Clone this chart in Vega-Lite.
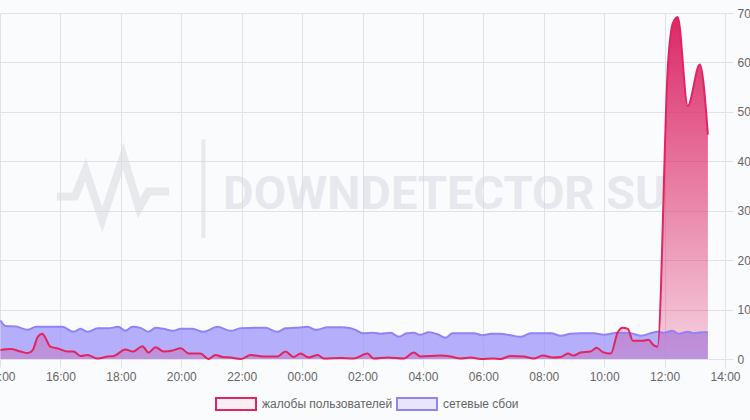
{
  "$schema": "https://vega.github.io/schema/vega-lite/v6.json",
  "autosize": "none",
  "width": 725,
  "height": 346,
  "padding": {"left": 0, "top": 13, "right": 25, "bottom": 61},
  "background": "#fafbfd",
  "config": {
    "view": {"stroke": null},
    "axis": {
      "gridColor": "#e1e2e5",
      "tickColor": "#e1e2e5",
      "labelColor": "#666666",
      "labelFont": "Liberation Sans",
      "labelFontSize": 12,
      "domain": false,
      "title": null
    }
  },
  "datasets": {
    "series": [
      {"t": "2024-01-01T14:01", "v": 78, "s": "сетевые сбои"},
      {"t": "2024-01-01T14:11", "v": 67, "s": "сетевые сбои"},
      {"t": "2024-01-01T14:31", "v": 66, "s": "сетевые сбои"},
      {"t": "2024-01-01T14:55", "v": 59, "s": "сетевые сбои"},
      {"t": "2024-01-01T15:11", "v": 65, "s": "сетевые сбои"},
      {"t": "2024-01-01T15:40", "v": 65, "s": "сетевые сбои"},
      {"t": "2024-01-01T16:04", "v": 65, "s": "сетевые сбои"},
      {"t": "2024-01-01T16:26", "v": 55, "s": "сетевые сбои"},
      {"t": "2024-01-01T16:40", "v": 61, "s": "сетевые сбои"},
      {"t": "2024-01-01T16:54", "v": 55, "s": "сетевые сбои"},
      {"t": "2024-01-01T17:14", "v": 62, "s": "сетевые сбои"},
      {"t": "2024-01-01T17:34", "v": 62, "s": "сетевые сбои"},
      {"t": "2024-01-01T17:55", "v": 65, "s": "сетевые сбои"},
      {"t": "2024-01-01T18:09", "v": 57, "s": "сетевые сбои"},
      {"t": "2024-01-01T18:23", "v": 65, "s": "сетевые сбои"},
      {"t": "2024-01-01T18:39", "v": 63, "s": "сетевые сбои"},
      {"t": "2024-01-01T18:55", "v": 55, "s": "сетевые сбои"},
      {"t": "2024-01-01T19:09", "v": 63, "s": "сетевые сбои"},
      {"t": "2024-01-01T19:25", "v": 61, "s": "сетевые сбои"},
      {"t": "2024-01-01T19:43", "v": 57, "s": "сетевые сбои"},
      {"t": "2024-01-01T19:59", "v": 61, "s": "сетевые сбои"},
      {"t": "2024-01-01T20:22", "v": 61, "s": "сетевые сбои"},
      {"t": "2024-01-01T20:44", "v": 55, "s": "сетевые сбои"},
      {"t": "2024-01-01T21:12", "v": 65, "s": "сетевые сбои"},
      {"t": "2024-01-01T21:38", "v": 57, "s": "сетевые сбои"},
      {"t": "2024-01-01T21:58", "v": 62, "s": "сетевые сбои"},
      {"t": "2024-01-01T22:28", "v": 63, "s": "сетевые сбои"},
      {"t": "2024-01-01T22:47", "v": 63, "s": "сетевые сбои"},
      {"t": "2024-01-01T23:11", "v": 55, "s": "сетевые сбои"},
      {"t": "2024-01-01T23:27", "v": 62, "s": "сетевые сбои"},
      {"t": "2024-01-01T23:47", "v": 63, "s": "сетевые сбои"},
      {"t": "2024-01-02T00:11", "v": 65, "s": "сетевые сбои"},
      {"t": "2024-01-02T00:27", "v": 59, "s": "сетевые сбои"},
      {"t": "2024-01-02T00:51", "v": 64, "s": "сетевые сбои"},
      {"t": "2024-01-02T01:17", "v": 64, "s": "сетевые сбои"},
      {"t": "2024-01-02T01:36", "v": 62, "s": "сетевые сбои"},
      {"t": "2024-01-02T01:46", "v": 59, "s": "сетевые сбои"},
      {"t": "2024-01-02T02:00", "v": 52, "s": "сетевые сбои"},
      {"t": "2024-01-02T02:22", "v": 53, "s": "сетевые сбои"},
      {"t": "2024-01-02T02:36", "v": 51, "s": "сетевые сбои"},
      {"t": "2024-01-02T02:56", "v": 53, "s": "сетевые сбои"},
      {"t": "2024-01-02T03:12", "v": 45, "s": "сетевые сбои"},
      {"t": "2024-01-02T03:28", "v": 52, "s": "сетевые сбои"},
      {"t": "2024-01-02T03:42", "v": 53, "s": "сетевые сбои"},
      {"t": "2024-01-02T03:55", "v": 49, "s": "сетевые сбои"},
      {"t": "2024-01-02T04:11", "v": 54, "s": "сетевые сбои"},
      {"t": "2024-01-02T04:29", "v": 50, "s": "сетевые сбои"},
      {"t": "2024-01-02T04:45", "v": 43, "s": "сетевые сбои"},
      {"t": "2024-01-02T04:59", "v": 52, "s": "сетевые сбои"},
      {"t": "2024-01-02T05:21", "v": 52, "s": "сетевые сбои"},
      {"t": "2024-01-02T05:41", "v": 52, "s": "сетевые сбои"},
      {"t": "2024-01-02T05:59", "v": 48, "s": "сетевые сбои"},
      {"t": "2024-01-02T06:15", "v": 51, "s": "сетевые сбои"},
      {"t": "2024-01-02T06:34", "v": 51, "s": "сетевые сбои"},
      {"t": "2024-01-02T06:54", "v": 48, "s": "сетевые сбои"},
      {"t": "2024-01-02T07:14", "v": 45, "s": "сетевые сбои"},
      {"t": "2024-01-02T07:34", "v": 52, "s": "сетевые сбои"},
      {"t": "2024-01-02T08:14", "v": 52, "s": "сетевые сбои"},
      {"t": "2024-01-02T08:34", "v": 47, "s": "сетевые сбои"},
      {"t": "2024-01-02T08:53", "v": 51, "s": "сетевые сбои"},
      {"t": "2024-01-02T09:13", "v": 52, "s": "сетевые сбои"},
      {"t": "2024-01-02T09:39", "v": 52, "s": "сетевые сбои"},
      {"t": "2024-01-02T09:59", "v": 49, "s": "сетевые сбои"},
      {"t": "2024-01-02T10:27", "v": 53, "s": "сетевые сбои"},
      {"t": "2024-01-02T10:53", "v": 52, "s": "сетевые сбои"},
      {"t": "2024-01-02T11:13", "v": 47, "s": "сетевые сбои"},
      {"t": "2024-01-02T11:32", "v": 52, "s": "сетевые сбои"},
      {"t": "2024-01-02T11:46", "v": 55, "s": "сетевые сбои"},
      {"t": "2024-01-02T11:58", "v": 53, "s": "сетевые сбои"},
      {"t": "2024-01-02T12:16", "v": 57, "s": "сетевые сбои"},
      {"t": "2024-01-02T12:28", "v": 51, "s": "сетевые сбои"},
      {"t": "2024-01-02T12:46", "v": 55, "s": "сетевые сбои"},
      {"t": "2024-01-02T12:58", "v": 52, "s": "сетевые сбои"},
      {"t": "2024-01-02T13:12", "v": 54, "s": "сетевые сбои"},
      {"t": "2024-01-02T13:26", "v": 54, "s": "сетевые сбои"},
      {"t": "2024-01-01T14:01", "v": 18, "s": "жалобы пользователей"},
      {"t": "2024-01-01T14:21", "v": 20, "s": "жалобы пользователей"},
      {"t": "2024-01-01T14:41", "v": 15, "s": "жалобы пользователей"},
      {"t": "2024-01-01T14:55", "v": 12, "s": "жалобы пользователей"},
      {"t": "2024-01-01T15:05", "v": 18, "s": "жалобы пользователей"},
      {"t": "2024-01-01T15:15", "v": 45, "s": "жалобы пользователей"},
      {"t": "2024-01-01T15:24", "v": 51, "s": "жалобы пользователей"},
      {"t": "2024-01-01T15:29", "v": 45, "s": "жалобы пользователей"},
      {"t": "2024-01-01T15:40", "v": 25, "s": "жалобы пользователей"},
      {"t": "2024-01-01T15:56", "v": 21, "s": "жалобы пользователей"},
      {"t": "2024-01-01T16:14", "v": 15, "s": "жалобы пользователей"},
      {"t": "2024-01-01T16:26", "v": 15, "s": "жалобы пользователей"},
      {"t": "2024-01-01T16:40", "v": 6, "s": "жалобы пользователей"},
      {"t": "2024-01-01T16:54", "v": 8, "s": "жалобы пользователей"},
      {"t": "2024-01-01T17:14", "v": 1, "s": "жалобы пользователей"},
      {"t": "2024-01-01T17:34", "v": 5, "s": "жалобы пользователей"},
      {"t": "2024-01-01T17:46", "v": 6, "s": "жалобы пользователей"},
      {"t": "2024-01-01T18:09", "v": 19, "s": "жалобы пользователей"},
      {"t": "2024-01-01T18:25", "v": 15, "s": "жалобы пользователей"},
      {"t": "2024-01-01T18:43", "v": 26, "s": "жалобы пользователей"},
      {"t": "2024-01-01T18:55", "v": 13, "s": "жалобы пользователей"},
      {"t": "2024-01-01T19:09", "v": 24, "s": "жалобы пользователей"},
      {"t": "2024-01-01T19:25", "v": 15, "s": "жалобы пользователей"},
      {"t": "2024-01-01T19:43", "v": 17, "s": "жалобы пользователей"},
      {"t": "2024-01-01T19:59", "v": 22, "s": "жалобы пользователей"},
      {"t": "2024-01-01T20:15", "v": 11, "s": "жалобы пользователей"},
      {"t": "2024-01-01T20:38", "v": 11, "s": "жалобы пользователей"},
      {"t": "2024-01-01T20:54", "v": 0, "s": "жалобы пользователей"},
      {"t": "2024-01-01T21:08", "v": 8, "s": "жалобы пользователей"},
      {"t": "2024-01-01T21:22", "v": 4, "s": "жалобы пользователей"},
      {"t": "2024-01-01T21:38", "v": 3, "s": "жалобы пользователей"},
      {"t": "2024-01-01T21:58", "v": 0, "s": "жалобы пользователей"},
      {"t": "2024-01-01T22:18", "v": 8, "s": "жалобы пользователей"},
      {"t": "2024-01-01T22:43", "v": 5, "s": "жалобы пользователей"},
      {"t": "2024-01-01T23:11", "v": 5, "s": "жалобы пользователей"},
      {"t": "2024-01-01T23:27", "v": 15, "s": "жалобы пользователей"},
      {"t": "2024-01-01T23:43", "v": 4, "s": "жалобы пользователей"},
      {"t": "2024-01-01T23:57", "v": 11, "s": "жалобы пользователей"},
      {"t": "2024-01-02T00:13", "v": 3, "s": "жалобы пользователей"},
      {"t": "2024-01-02T00:31", "v": 8, "s": "жалобы пользователей"},
      {"t": "2024-01-02T00:43", "v": 1, "s": "жалобы пользователей"},
      {"t": "2024-01-02T01:17", "v": 2, "s": "жалобы пользователей"},
      {"t": "2024-01-02T01:42", "v": 1, "s": "жалобы пользователей"},
      {"t": "2024-01-02T02:10", "v": 11, "s": "жалобы пользователей"},
      {"t": "2024-01-02T02:22", "v": 1, "s": "жалобы пользователей"},
      {"t": "2024-01-02T02:50", "v": 3, "s": "жалобы пользователей"},
      {"t": "2024-01-02T03:22", "v": 1, "s": "жалобы пользователей"},
      {"t": "2024-01-02T03:42", "v": 13, "s": "жалобы пользователей"},
      {"t": "2024-01-02T03:55", "v": 5, "s": "жалобы пользователей"},
      {"t": "2024-01-02T04:35", "v": 7, "s": "жалобы пользователей"},
      {"t": "2024-01-02T04:55", "v": 5, "s": "жалобы пользователей"},
      {"t": "2024-01-02T05:15", "v": 1, "s": "жалобы пользователей"},
      {"t": "2024-01-02T05:35", "v": 3, "s": "жалобы пользователей"},
      {"t": "2024-01-02T05:55", "v": 0, "s": "жалобы пользователей"},
      {"t": "2024-01-02T06:20", "v": 1, "s": "жалобы пользователей"},
      {"t": "2024-01-02T06:34", "v": 0, "s": "жалобы пользователей"},
      {"t": "2024-01-02T06:54", "v": 6, "s": "жалобы пользователей"},
      {"t": "2024-01-02T07:20", "v": 5, "s": "жалобы пользователей"},
      {"t": "2024-01-02T07:40", "v": 1, "s": "жалобы пользователей"},
      {"t": "2024-01-02T07:58", "v": 7, "s": "жалобы пользователей"},
      {"t": "2024-01-02T08:18", "v": 3, "s": "жалобы пользователей"},
      {"t": "2024-01-02T08:34", "v": 4, "s": "жалобы пользователей"},
      {"t": "2024-01-02T08:48", "v": 11, "s": "жалобы пользователей"},
      {"t": "2024-01-02T08:59", "v": 7, "s": "жалобы пользователей"},
      {"t": "2024-01-02T09:13", "v": 13, "s": "жалобы пользователей"},
      {"t": "2024-01-02T09:33", "v": 15, "s": "жалобы пользователей"},
      {"t": "2024-01-02T09:45", "v": 23, "s": "жалобы пользователей"},
      {"t": "2024-01-02T09:57", "v": 14, "s": "жалобы пользователей"},
      {"t": "2024-01-02T10:13", "v": 11, "s": "жалобы пользователей"},
      {"t": "2024-01-02T10:27", "v": 54, "s": "жалобы пользователей"},
      {"t": "2024-01-02T10:37", "v": 63, "s": "жалобы пользователей"},
      {"t": "2024-01-02T10:47", "v": 61, "s": "жалобы пользователей"},
      {"t": "2024-01-02T10:57", "v": 37, "s": "жалобы пользователей"},
      {"t": "2024-01-02T11:17", "v": 37, "s": "жалобы пользователей"},
      {"t": "2024-01-02T11:28", "v": 39, "s": "жалобы пользователей"},
      {"t": "2024-01-02T11:38", "v": 28, "s": "жалобы пользователей"},
      {"t": "2024-01-02T11:46", "v": 25, "s": "жалобы пользователей"},
      {"t": "2024-01-02T12:07", "v": 600, "s": "жалобы пользователей"},
      {"t": "2024-01-02T12:16", "v": 678, "s": "жалобы пользователей"},
      {"t": "2024-01-02T12:26", "v": 692, "s": "жалобы пользователей"},
      {"t": "2024-01-02T12:46", "v": 512, "s": "жалобы пользователей"},
      {"t": "2024-01-02T13:10", "v": 596, "s": "жалобы пользователей"},
      {"t": "2024-01-02T13:26", "v": 454, "s": "жалобы пользователей"}
    ],
    "wmline": [
      {"t": "2024-01-01T15:53", "v": 329},
      {"t": "2024-01-01T16:29", "v": 329},
      {"t": "2024-01-01T16:50", "v": 383},
      {"t": "2024-01-01T17:23", "v": 282},
      {"t": "2024-01-01T18:05", "v": 410},
      {"t": "2024-01-01T18:36", "v": 305},
      {"t": "2024-01-01T18:55", "v": 339},
      {"t": "2024-01-01T19:36", "v": 339}
    ],
    "wmbar": [
      {"t": "2024-01-01T20:44", "v": 444, "v2": 245}
    ],
    "wmtext": [
      {"t": "2024-01-02T04:43", "v": 331, "label": "DOWNDETECTOR SU"}
    ]
  },
  "encoding": {
    "x": {
      "field": "t",
      "type": "temporal",
      "scale": {
        "domain": [
          {"year": 2024, "month": 1, "date": 1, "hours": 14},
          {"year": 2024, "month": 1, "date": 2, "hours": 14}
        ]
      },
      "axis": {
        "format": "%H:%M",
        "values": [
          {"year": 2024, "month": 1, "date": 1, "hours": 14},
          {"year": 2024, "month": 1, "date": 1, "hours": 16},
          {"year": 2024, "month": 1, "date": 1, "hours": 18},
          {"year": 2024, "month": 1, "date": 1, "hours": 20},
          {"year": 2024, "month": 1, "date": 1, "hours": 22},
          {"year": 2024, "month": 1, "date": 2, "hours": 0},
          {"year": 2024, "month": 1, "date": 2, "hours": 2},
          {"year": 2024, "month": 1, "date": 2, "hours": 4},
          {"year": 2024, "month": 1, "date": 2, "hours": 6},
          {"year": 2024, "month": 1, "date": 2, "hours": 8},
          {"year": 2024, "month": 1, "date": 2, "hours": 10},
          {"year": 2024, "month": 1, "date": 2, "hours": 12},
          {"year": 2024, "month": 1, "date": 2, "hours": 14}
        ],
        "labelFlush": false,
        "labelOverlap": false,
        "tickSize": 8,
        "labelPadding": 4
      }
    },
    "y": {
      "field": "v",
      "type": "quantitative",
      "scale": {"domain": [0, 700], "nice": false},
      "axis": {
        "orient": "right",
        "values": [0, 100, 200, 300, 400, 500, 600, 700],
        "tickSize": 8,
        "labelPadding": 4
      }
    }
  },
  "layer": [
    {
      "data": {"name": "wmline"},
      "mark": {"type": "line", "stroke": "#d3d7de", "opacity": 0.5, "strokeWidth": 8, "strokeJoin": "miter"}
    },
    {
      "data": {"name": "wmbar"},
      "mark": {"type": "rule", "stroke": "#d3d7de", "opacity": 0.5, "strokeWidth": 4},
      "encoding": {"y2": {"field": "v2"}}
    },
    {
      "data": {"name": "wmtext"},
      "mark": {"type": "text", "font": "Roboto", "fontWeight": "bold", "fontSize": 47, "fill": "#d3d7de", "opacity": 0.5, "align": "center", "baseline": "middle"},
      "encoding": {"text": {"field": "label"}}
    },
    {
      "data": {"name": "series"},
      "transform": [{"filter": "datum.s === 'сетевые сбои'"}],
      "mark": {"type": "area", "interpolate": "monotone", "fill": "#9d94fa", "fillOpacity": 0.75}
    },
    {
      "data": {"name": "series"},
      "transform": [{"filter": "datum.s === 'жалобы пользователей'"}],
      "mark": {
        "type": "area",
        "interpolate": "monotone",
        "fill": {
          "gradient": "linear",
          "x1": 0, "y1": 0, "x2": 0, "y2": 1,
          "stops": [
            {"offset": 0, "color": "rgba(218,34,98,0.97)"},
            {"offset": 1, "color": "rgba(222,40,104,0.2)"}
          ]
        }
      }
    },
    {
      "data": {"name": "series"},
      "mark": {"type": "line", "interpolate": "monotone", "strokeWidth": 2},
      "encoding": {
        "stroke": {
          "field": "s",
          "type": "nominal",
          "scale": {
            "domain": ["жалобы пользователей", "сетевые сбои"],
            "range": ["#e2245f", "#9183f6"]
          },
          "legend": {
            "orient": "none",
            "legendX": 215,
            "legendY": 370,
            "direction": "horizontal",
            "title": null,
            "padding": 0,
            "symbolType": "M-1,-0.3H1V0.3H-1Z",
            "symbolSize": 1600,
            "symbolStrokeWidth": 2,
            "symbolFillColor": "#f3eefa",
            "labelFont": "Liberation Sans",
            "labelFontSize": 12,
            "labelColor": "#666666",
            "labelOffset": 5,
            "columnPadding": 0,
            "encode": {
              "symbols": {
                "update": {
                  "fill": {"signal": "datum.value === 'сетевые сбои' ? '#e8e5fc' : '#f9eef3'"},
                  "fillOpacity": {"value": 1}
                }
              }
            }
          }
        }
      }
    }
  ]
}
